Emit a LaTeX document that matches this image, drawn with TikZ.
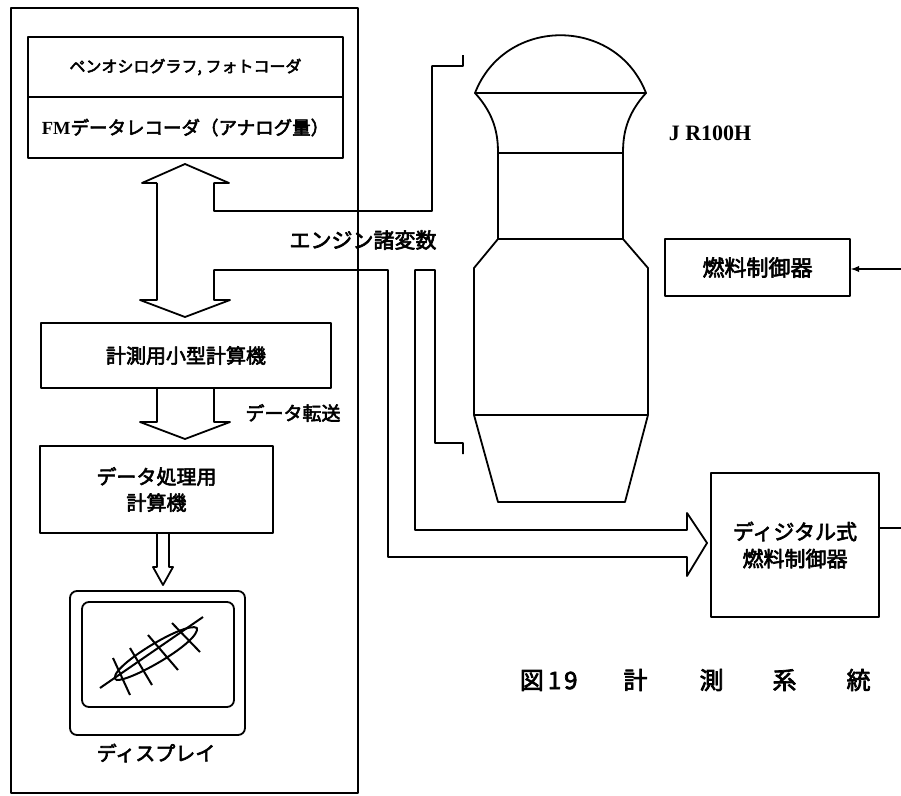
\documentclass[tikz,border=0pt]{standalone}
\usepackage{fontspec}
\setmainfont{Liberation Serif}
\newfontfamily\jp{Noto Sans CJK JP}[FakeBold=3]
\usetikzlibrary{arrows}

\begin{document}
\begin{tikzpicture}[x=1pt,y=-1pt,line width=1.8pt,line join=round]
	\tikzstyle{blk}=[draw,rectangle,inner sep=0pt,align=center]
	\tikzstyle{txt}=[inner sep=0pt,align=center]
	\useasboundingbox (0,0) rectangle (901,795);
	% cadre de gauche
	\draw (11,8) rectangle (358,793);
	% enregistreurs
	\node[blk,minimum width=315pt,minimum height=60pt,font=\jp\fontsize{16}{20}\selectfont] (pen) at (185.5,67) {ペンオシログラフ, フォトコーダ};
	\node[blk,minimum width=315pt,minimum height=61pt,font=\fontsize{18.5}{20}\selectfont] (fm) at (185.5,127.5) {\textbf{FM}{\jp データレコーダ（アナログ量）}};
	% calculateurs
	\node[blk,minimum width=290pt,minimum height=65pt,font=\jp\fontsize{20}{24}\selectfont] (mini) at (186,355.5) {計測用小型計算機};
	\node[blk,minimum width=233pt,minimum height=87pt,font=\jp\fontsize{20}{26}\selectfont] (proc) at (156.5,489.5) {データ処理用\\計算機};
	% ecran
	\draw[rounded corners=7pt] (70,591) rectangle (245,735);
	\draw[rounded corners=7pt] (82,602) rectangle (234,707);
	\draw[line width=2pt] (100,688) -- (203,617);
	\draw[line width=2pt] (116,680) .. controls (104,670) and (186,620) .. (197,628) .. controls (200,642) and (130,682) .. (116,680);
	\draw[line width=2pt] (113,658) -- (130,695) (130,648) -- (152,685) (148,635) -- (178,670) (172,623) -- (200,652);
	\node[txt,font=\jp\fontsize{20}{24}\selectfont] (ecran) at (156,753) {ディスプレイ};
	% fleches creuses
	\draw (157,388) -- (157,422) -- (140,422) -- (185,439) -- (230,422) -- (214,422) -- (214,388);
	\node[txt,font=\jp\fontsize{19}{22}\selectfont] (transfert) at (293,413) {データ転送};
	\draw (157,533) -- (157,567) -- (153,567) -- (163,585) -- (173,567) -- (169,567) -- (169,533);
	% double fleche et lignes vers le moteur
	\draw (157,183) -- (142,183) -- (185,164) -- (229,183) -- (214,183) -- (214,211) -- (432,211) -- (432,66) -- (463,66) -- (463,55);
	\draw (157,183) -- (157,300) -- (140,300) -- (185,317) -- (230,300) -- (214,300) -- (214,270) -- (388,270) -- (388,557) -- (687,557) -- (687,576) -- (707,543) -- (687,513) -- (687,530) -- (415,530) -- (415,270) -- (435,270) -- (435,443) -- (463,443) -- (463,454);
	\node[txt,font=\jp\fontsize{21}{24}\selectfont] (var) at (363,240) {エンジン諸変数};
	% moteur
	\draw (475,93) .. controls (505,16) and (616,16) .. (646,93) -- cycle;
	\draw (475,93) .. controls (495,115) and (498,135) .. (498,153) -- (498,239) -- (474,268) -- (474,415) -- (498,502) -- (625,502) -- (648,415) -- (648,268) -- (623,239) -- (623,153) .. controls (623,135) and (626,115) .. (646,93);
	\draw (498,153) -- (623,153) (498,239) -- (623,239) (474,415) -- (648,415);
	\node[txt,font=\bfseries\fontsize{22}{24}\selectfont] (nom) at (710,133) {J R100H};
	% regulateurs
	\node[blk,minimum width=185pt,minimum height=57pt,font=\jp\fontsize{22}{24}\selectfont] (fuel) at (757.5,267.5) {燃料制御器};
	\node[blk,minimum width=168pt,minimum height=144pt,font=\jp\fontsize{21}{27}\selectfont] (dig) at (795,545) {ディジタル式\\燃料制御器};
	\coordinate (entree) at (901,269);
	\coordinate (sortie) at (901,528);
	\draw[-latex] (entree) -- (fuel.east |- entree);
	\draw (dig.east |- sortie) -- (sortie);
	% legende
	\node[txt,anchor=west,font=\jp\fontsize{24}{26}\selectfont] (titre) at (519,680) {図\hspace{4pt}1\hspace{3pt}9\hspace{46pt}計\hspace{52pt}測\hspace{49pt}系\hspace{50pt}統};
\end{tikzpicture}
\end{document}
